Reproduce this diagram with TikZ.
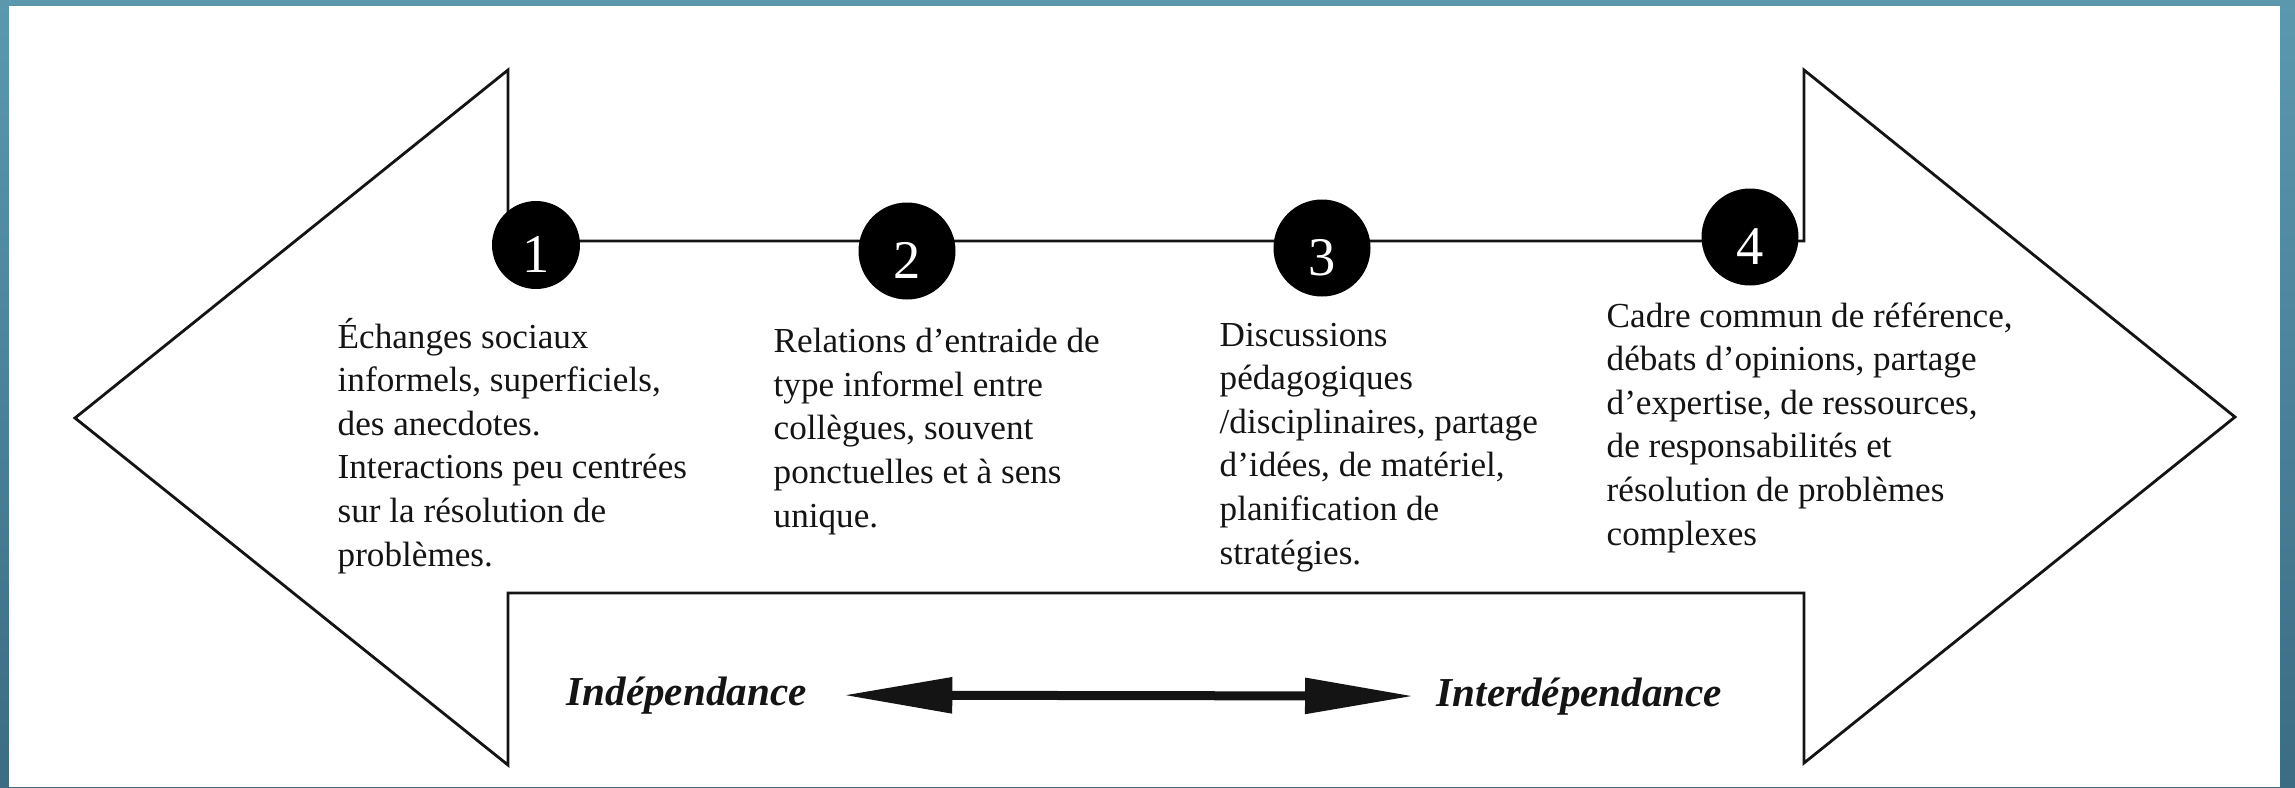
\documentclass[tikz,border=0pt]{standalone}
\usepackage{fontspec}
\setmainfont{Liberation Serif}
\usetikzlibrary{arrows.meta}
\definecolor{FrameTop}{HTML}{5B98AE}
\definecolor{FrameBottom}{HTML}{3B6C84}
\definecolor{StageInk}{HTML}{141414}

\begin{document}
\begin{tikzpicture}[
  x=0.1mm,y=-0.1mm,
  outline/.style={draw=StageInk,line width=0.8pt,line join=miter},
  stage/.style={circle,fill=black,draw=none,minimum size=9.7mm,inner sep=0pt,
    text=white,font=\fontsize{15.5}{15.5}\selectfont,text height=5.5mm,text depth=0pt},
  note/.style={anchor=base west,align=left,inner sep=0pt,text=StageInk,
    font=\fontsize{10}{12.4}\selectfont},
  pole/.style={anchor=base west,inner sep=0pt,text=StageInk,
    font=\fontsize{11.7}{12}\selectfont\bfseries\itshape},
  scalearrow/.style={draw=StageInk,line width=0.9mm,
    {Triangle[length=10.9mm,width=3.4mm]}-{Triangle[length=10.9mm,width=3.4mm]}}
]
  \useasboundingbox (0,0) rectangle (2295,787);
  % Slide frame.
  \shade[top color=FrameTop,bottom color=FrameBottom] (0,0) rectangle (2295,787);
  \fill[white] (9,6) rectangle (2280,787);

  % Double arrow outline carrying the four stages.
  \draw[outline] (75,418) -- (508,70) -- (508,241) -- (1804,241) -- (1804,70)
    -- (2235,417) -- (1804,763) -- (1804,593) -- (508,593) -- (508,765) -- cycle;

  % Numbered stages.
  \node[stage,minimum size=8.8mm] (s1) at (536,245) {1};
  \node[stage] (s2) at (907,251) {2};
  \node[stage] (s3) at (1322,248) {3};
  \node[stage] (s4) at (1750,237) {4};

  % Stage descriptions (placed by the baseline of their last line).
  \node[note] (d1) at (337,566) {Échanges sociaux\\informels, superficiels,\\des anecdotes.\\
    Interactions peu centrées\\sur la résolution de\\problèmes.};
  \node[note] (d2) at (773,527) {Relations d’entraide de\\type informel entre\\collègues, souvent\\
    ponctuelles et à sens\\unique.};
  \node[note] (d3) at (1219,564) {Discussions\\pédagogiques\\/disciplinaires, partage\\
    d’idées, de matériel,\\planification de\\stratégies.};
  \node[note] (d4) at (1606,545) {Cadre commun de référence,\\débats d’opinions, partage\\
    d’expertise, de ressources,\\de responsabilités et\\résolution de problèmes\\complexes};

  % Scale from independence to interdependence.
  \node[pole] (indep) at (566,705) {Indépendance};
  \node[pole] (interdep) at (1436,706) {Interdépendance};
  \draw[scalearrow,shorten <=3.6mm,shorten >=2.2mm] (indep.east) -- (interdep.west);
\end{tikzpicture}
\end{document}
